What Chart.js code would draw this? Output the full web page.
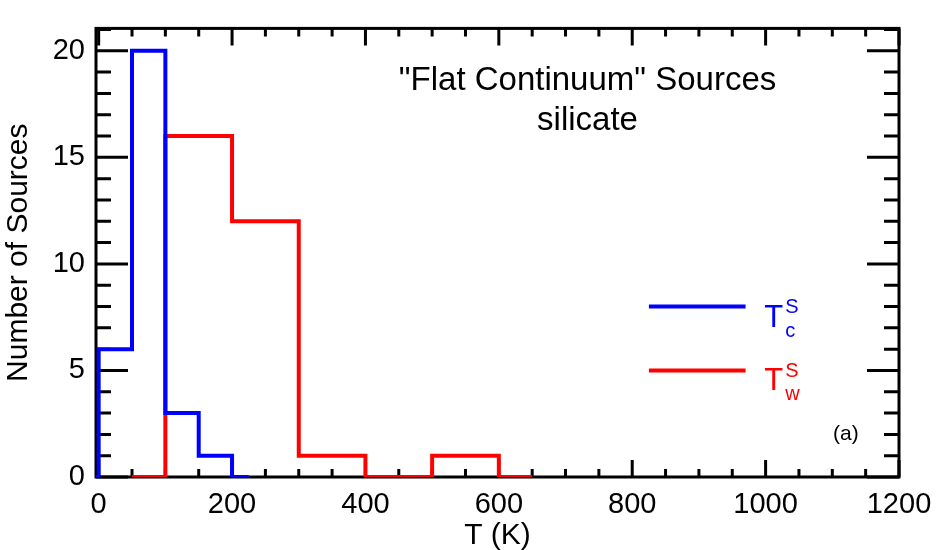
<!DOCTYPE html>
<html>
<head>
<meta charset="utf-8">
<script src="https://cdn.jsdelivr.net/npm/chart.js@4"></script>
<style>
  body { margin: 0; background: #fff; }
</style>
</head>
<body>
<canvas id="histChart" width="945" height="550"></canvas>
<script>
// histogram bins (psym=10 style: steps half-way between points)
const tempC = [-25, 25, 75, 125, 175, 225];
const countC = [0, 6, 20, 3, 1, 0];
const tempW = [50, 150, 250, 350, 450, 550, 650];
const countW = [0, 16, 12, 1, 0, 1, 0];

const xTicks = [0, 200, 400, 600, 800, 1000, 1200];
const yTicks = [0, 5, 10, 15, 20];
const titleLines = ['"Flat Continuum" Sources', 'silicate'];
const panelLabel = '(a)';

const FONT = "'Liberation Sans', Arial, Helvetica, sans-serif";

const toPoints = (xs, ys) => xs.map((v, i) => ({ x: v, y: ys[i] }));

const frame = {
    id: 'frame',
    beforeDatasetsDraw(chart) {
        const { ctx, chartArea: a, scales: { x, y } } = chart;
        ctx.save();
        ctx.strokeStyle = '#000';
        ctx.lineWidth = 3;
        ctx.beginPath();
        // minor ticks every 50 K / 1 source, major ones at the labelled values
        for (let v = 0; v <= 1200; v += 50) {
            const px = x.getPixelForValue(v);
            const len = xTicks.includes(v) ? 17 : 8;
            ctx.moveTo(px, a.bottom); ctx.lineTo(px, a.bottom - len);
            ctx.moveTo(px, a.top); ctx.lineTo(px, a.top + len);
        }
        for (let v = 0; v <= 21; v++) {
            const py = y.getPixelForValue(v);
            const len = yTicks.includes(v) ? 32 : 15;
            ctx.moveTo(a.left, py); ctx.lineTo(a.left + len, py);
            ctx.moveTo(a.right, py); ctx.lineTo(a.right - len, py);
        }
        ctx.stroke();
        ctx.lineWidth = 3;
        ctx.strokeRect(a.left, a.top, a.right - a.left, a.bottom - a.top);
        ctx.restore();
    },
    afterDraw(chart) {
        const { ctx, scales: { x, y } } = chart;
        ctx.save();
        ctx.fillStyle = '#000';
        ctx.textAlign = 'center';
        ctx.textBaseline = 'alphabetic';
        ctx.font = '33px ' + FONT;
        ctx.fillText(titleLines[0], x.getPixelForValue(733), y.getPixelForValue(18.15));
        ctx.fillText(titleLines[1], x.getPixelForValue(733), y.getPixelForValue(16.3));

        // legend with T^S_c / T^S_w
        const items = [
            { color: 'rgb(0,0,255)', sub: 'c', level: 8 },
            { color: 'rgb(255,0,0)', sub: 'w', level: 5 }
        ];
        items.forEach(it => {
            const ly = y.getPixelForValue(it.level);
            ctx.strokeStyle = it.color;
            ctx.lineWidth = 4;
            ctx.beginPath();
            ctx.moveTo(x.getPixelForValue(825), ly);
            ctx.lineTo(x.getPixelForValue(970), ly);
            ctx.stroke();
            ctx.fillStyle = it.color;
            ctx.textAlign = 'left';
            const tx = x.getPixelForValue(998);
            const base = ly + 20;
            ctx.font = '31px ' + FONT;
            ctx.fillText('T', tx, base);
            const tw = ctx.measureText('T').width;
            ctx.font = '20px ' + FONT;
            ctx.fillText('S', tx + tw + 2, base - 13.5);
            ctx.fillText(it.sub, tx + tw + 2, base + 10);
        });

        ctx.fillStyle = '#000';
        ctx.font = '21px ' + FONT;
        ctx.textAlign = 'left';
        ctx.fillText(panelLabel, x.getPixelForValue(1101), y.getPixelForValue(1.72));
        ctx.restore();
    }
};

const ctx = document.getElementById('histChart').getContext('2d');
new Chart(ctx, {
    type: 'scatter',
    data: {
        datasets: [
            {
                label: 'Tc',
                data: toPoints(tempC, countC),
                showLine: true,
                stepped: 'middle',
                borderColor: 'rgb(0,0,255)',
                borderWidth: 4,
                pointRadius: 0,
                fill: false
            },
            {
                label: 'Tw',
                data: toPoints(tempW, countW),
                showLine: true,
                stepped: 'middle',
                borderColor: 'rgb(255,0,0)',
                borderWidth: 4,
                pointRadius: 0,
                fill: false
            }
        ]
    },
    options: {
        responsive: false,
        animation: false,
        layout: { padding: { top: 25, right: 46, left: 0, bottom: 0 } },
        plugins: {
            legend: { display: false },
            tooltip: { enabled: false }
        },
        scales: {
            x: {
                type: 'linear',
                min: -4,
                max: 1200,
                grid: { display: false, drawTicks: false },
                border: { display: false },
                afterBuildTicks(scale) { scale.ticks = xTicks.map(v => ({ value: v })); },
                ticks: {
                    maxRotation: 0,
                    autoSkip: false,
                    padding: 11,
                    color: '#000',
                    font: { family: FONT, size: 29 },
                    callback: v => String(v)
                },
                title: {
                    display: true,
                    text: 'T (K)',
                    color: '#000',
                    font: { family: FONT, size: 30, lineHeight: 0.93 },
                    padding: { top: 0, bottom: 0 }
                },
                afterFit(scale) { scale.height = 73; }
            },
            y: {
                min: 0,
                max: 21.05,
                grid: { display: false, drawTicks: false },
                border: { display: false },
                afterBuildTicks(scale) { scale.ticks = yTicks.map(v => ({ value: v })); },
                ticks: {
                    padding: 11,
                    color: '#000',
                    font: { family: FONT, size: 29 },
                    callback: v => String(v)
                },
                title: {
                    display: true,
                    text: 'Number of Sources',
                    color: '#000',
                    font: { family: FONT, size: 30, lineHeight: 1 },
                    padding: { top: 4, bottom: 0 }
                },
                afterFit(scale) { scale.width = 96; }
            }
        }
    },
    plugins: [frame]
});
</script>
</body>
</html>
